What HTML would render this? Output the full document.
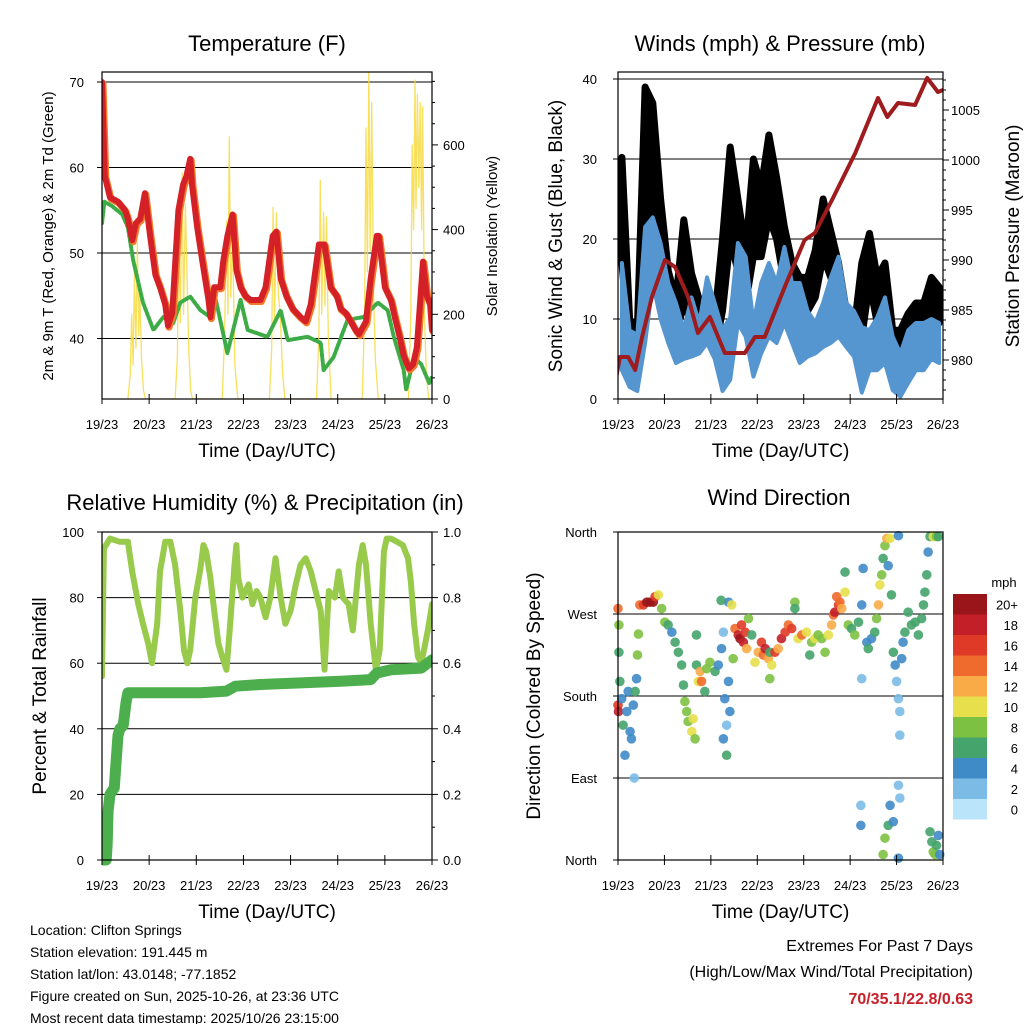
<!DOCTYPE html>
<html><head><meta charset="utf-8"><style>
html,body{margin:0;padding:0;background:#fff;}
svg{display:block;font-family:"Liberation Sans",sans-serif;}
</style></head><body>
<svg id="s" width="1024" height="1024" viewBox="0 0 1024 1024"></svg>
<script>
// ---------- Temperature panel data ----------
const tDays=[0,.06,.17,.34,.49,.55,.64,.72,.81,.91,1.02,1.13,1.23,1.34,1.40,1.49,1.62,1.72,1.79,1.87,1.91,2.02,2.13,2.26,2.30,2.38,2.51,2.57,2.66,2.77,2.85,2.94,3.04,3.15,3.26,3.36,3.47,3.62,3.70,3.79,3.91,4.04,4.21,4.32,4.43,4.60,4.72,4.85,4.98,5.06,5.17,5.28,5.38,5.45,5.60,5.70,5.83,5.87,6.00,6.13,6.21,6.30,6.40,6.51,6.60,6.68,6.81,6.89,6.96,7.0];
const tempRed=[70,59,56.5,56,55,54,51.5,53.5,54,57,52,47.5,46,44,41.5,43,55,58,59,61,58,53,49,44.5,42.5,46,46,49,52,54.5,48,46,45,44.5,44.5,44.5,46,52,52.5,47,45,43.5,42.5,42,44,51,51,46,45,43.5,43,42,41,40.5,42,47,52,52,46,44.5,42.5,40.5,38,36.5,37,39,49,45,44,41];
const tdDays=[0,.05,.21,.43,.55,.66,.87,1.09,1.30,1.51,1.66,1.87,2.09,2.30,2.40,2.66,2.94,3.09,3.51,3.79,3.94,4.36,4.64,4.70,4.91,5.21,5.55,5.85,6.06,6.19,6.40,6.45,6.62,6.77,6.94,7];
const dewGreen=[53.5,56,55.5,54.5,53,49.2,44.2,41,42.5,41.8,44.2,44.9,43.3,42.5,44.9,38.3,44.5,41,40.2,43.3,39.8,40.2,39.5,36.3,37.8,42.2,42.5,44.2,43.3,40.2,36.3,34,37.8,37,34.8,35.5];
const solarDays=[.55,.6,.63,.66,.69,.72,.75,.78,.8,.84,.88,.92, 1.55,1.6,1.63,1.66,1.7,1.73,1.77,1.8,1.84,1.88,1.92, 2.55,2.6,2.64,2.67,2.7,2.73,2.77,2.82,2.88, 3.55,3.6,3.63,3.66,3.7,3.74,3.78,3.83,3.88, 4.55,4.6,4.63,4.66,4.7,4.73,4.76,4.8,4.86, 5.52,5.57,5.6,5.63,5.66,5.69,5.72,5.76,5.8,5.86, 6.5,6.55,6.58,6.61,6.64,6.66,6.69,6.72,6.75,6.78,6.8,6.84,6.88,6.93];
const solarVals=[0,60,200,80,300,120,368,150,260,90,20,0, 0,100,380,180,534,200,460,300,120,20,0, 0,150,420,200,619,240,380,80,0, 0,120,453,180,440,250,200,60,0, 0,150,517,200,440,220,430,150,0, 0,200,640,300,777,350,700,250,90,0, 0,200,600,400,753,450,720,500,700,400,690,200,60,0];
// ---------- Wind panel data (4-hour bins) ----------
const windTop=[17,8.6,8,21.5,22.7,19.5, 14.5,12,8.6,12.7,9.5,15.2, 12,8.6,10.2,19.5,17.8,9.5, 14.5,17,14.5,19,14.5,14.5, 11,9.5,12,15.2,17.8,12, 11,9,8.6,10.2,12.7,7.8, 5.7,8.6,9.5,9.5,10,9.5];
const windLow=[3.6,1.5,1,7,14.5,10, 7,4.5,5,5.3,5.7,7, 5,1,2.4,9.5,7.8,2.8, 5.7,7.8,7,9.5,7,4.5, 5.3,5.7,6.5,7,7.8,6.5, 5.3,.8,3.6,3.6,4.5,1.1, .3,2,3.6,3.6,5,4.5];
const gustTop=[30.2,10,8.6,39,37,25, 16,12.4,22.4,15.7,12.4,10.2, 10,20,31.5,25,18.6,30, 26.5,33,27.7,21.5,17,15.2, 15.2,18.6,25,21,17,11, 8.6,17,20.7,15.2,17,8.6, 8.6,10.7,12,12,15.2,14];
const gustLow=[17,6.5,5.3,20,21.5,15.2, 7.8,7.8,12,9.5,7.8,7.8, 6,11,20,16,12,17.8, 17.8,22.7,20,14.5,11,9.5, 11,12.7,17.8,15.2,12,8.6, 7,7.8,14.5,9.5,12,5.3, 5.3,7.8,7.8,8.6,11,9.5];
const presDays=[-.06,.04,.22,.37,.52,.73,1.01,1.23,1.51,1.72,1.98,2.30,2.73,2.95,3.16,3.59,4.02,4.24,4.61,5.11,5.60,5.80,6.03,6.40,6.66,6.89,7.0];
const presVals=[977.7,980.3,980.3,979,982.3,986.3,990,989.3,986.3,982.7,984.3,980.7,980.7,982.3,982.3,987.3,992,992.7,996,1000.7,1006.2,1004.3,1005.7,1005.5,1008.2,1006.8,1007];
// ---------- RH / precip data ----------
const rhDays=[0,.04,.17,.38,.55,.64,.77,.87,.98,1.06,1.17,1.23,1.34,1.45,1.55,1.66,1.74,1.81,1.87,1.98,2.09,2.15,2.21,2.30,2.38,2.47,2.55,2.64,2.72,2.81,2.85,2.89,2.98,3.11,3.19,3.28,3.36,3.47,3.57,3.68,3.79,3.89,4.00,4.11,4.21,4.32,4.43,4.53,4.64,4.72,4.81,4.94,5.02,5.11,5.23,5.32,5.45,5.53,5.60,5.70,5.81,5.89,5.98,6.04,6.13,6.26,6.38,6.49,6.55,6.62,6.70,6.77,6.83,6.91,6.98,7.0];
const rhVals=[56,95,98,97,97,88,78,72,66,60,72,88,97,97,90,76,64,60,64,80,89,96,94,86,76,66,62,58,72,90,96,86,80,84,78,82,80,74,80,92,80,72,76,84,90,92,88,82,76,58,82,80,88,80,78,70,90,96,90,72,58,64,94,98,98,97,96,92,85,72,62,60,64,70,76,78];
const prDays=[0,.09,.11,.13,.17,.26,.30,.34,.38,.45,.51,.55,.70,2.09,2.64,2.83,3.36,4.21,5.06,5.70,5.83,6.13,6.77,7.0];
const prVals=[0,0,.05,.15,.2,.22,.3,.38,.40,.41,.48,.51,.51,.51,.515,.53,.535,.54,.545,.55,.57,.58,.585,.61];
// ---------- Wind direction data ----------
const dirDay=[0,0,.01,.02,.02,.04,.08,.11,.15,.19,.22,.26,.29,.33,.35,.37,.40,.42,.44,.47,.55,.62,.69,.76,.80,.87,.94,1.01,1.08,1.16,1.23,1.30,1.37,1.41,1.44,1.48,1.51,1.59,1.62,1.66,1.69,1.69,1.73,1.77,1.80,1.87,1.91,1.98,2.09,2.16,2.23,2.27,2.30,2.27,2.34,2.34,2.38,2.41,2.38,2.22,2.45,2.48,2.52,2.59,2.63,2.66,2.70,2.74,2.77,2.81,2.88,2.95,3.02,3.09,3.13,3.17,3.24,3.27,3.31,3.27,3.38,3.45,3.52,3.60,3.67,3.74,3.81,3.81,3.88,3.96,4.06,4.13,4.17,4.24,4.31,4.39,4.46,4.53,4.60,4.64,4.67,4.71,4.75,4.78,4.82,4.89,4.89,4.96,5.03,5.10,5.18,5.25,5.28,5.25,5.36,5.39,5.46,5.53,5.57,5.61,5.64,5.68,5.71,5.75,5.79,5.86,5.82,5.89,5.93,5.97,6.00,6.04,6.07,6.07,6.04,6.07,5.86,5.82,5.75,5.71,5.93,6.04,6.04,5.23,5.23,6.11,6.14,6.18,6.25,6.32,6.40,6.47,6.54,6.58,6.61,6.65,6.68,6.72,6.79,6.86,6.90,6.76,6.79,6.83,6.86,6.72,6.90,6.93];
const dirDeg=[276,170,163,258,228,196,177,148,115,163,185,141,133,170,90,185,199,225,248,280,280,283,283,283,289,291,276,261,258,250,239,228,214,192,174,163,152,141,155,133,214,247,196,207,196,185,210,217,207,214,232,250,177,133,115,148,283,163,196,285,280,221,254,247,243,258,239,250,232,265,247,217,228,239,225,232,221,199,214,228,228,232,243,250,258,254,283,276,243,247,250,225,239,243,247,243,228,247,258,269,272,289,280,283,276,294,316,258,254,247,261,280,320,199,239,232,243,250,265,280,302,313,331,345,353,353,323,291,228,214,196,177,163,137,82,68,60,38,24,6,42,2,356,60,38,221,239,250,272,258,261,247,265,280,294,313,338,355,355,355,355,20,9,6,16,31,27,6];
const dirSpd=[14,16,18,8,6,6,4,6,4,4,4,4,4,5,2,6,4,8,8,14,16,20,22,20,16,10,8,8,6,4,6,6,6,6,8,8,8,10,10,8,6,6,10,12,14,6,8,8,6,4,4,2,4,4,6,2,4,4,4,6,10,8,14,18,20,16,18,16,12,8,6,10,12,16,14,18,12,8,10,6,16,12,18,16,14,16,8,6,10,14,10,6,8,10,8,8,8,10,12,14,18,14,16,14,12,10,6,8,6,8,6,4,4,2,4,6,4,6,8,12,10,8,6,8,12,10,4,6,6,4,2,2,2,2,2,2,4,6,8,8,4,4,4,2,4,4,4,6,6,6,6,6,6,6,6,6,4,6,10,8,6,6,8,8,6,6,4,4];
const spdLabels=["20+","18","16","14","12","10","8","6","4","2","0"];
const spdColors=["#b9e4f9","#7cbbe6","#3f8bc8","#45a46b","#7dc143","#e7df4b","#f8ab47","#ef6b2d","#df3a27","#c21f29","#9a1519"];
const dayLabels=["19/23","20/23","21/23","22/23","23/23","24/23","25/23","26/23"];

const NS="http://www.w3.org/2000/svg";
const svg=document.getElementById('s');
function mk(tag,attrs,parent){const e=document.createElementNS(NS,tag);for(const k in attrs)e.setAttribute(k,attrs[k]);(parent||svg).appendChild(e);return e;}
function txt(x,y,s,size,anchor,parent,extra){const e=mk('text',Object.assign({x:x,y:y,'font-size':size,'text-anchor':anchor||'middle',fill:'#000'},extra||{}),parent);e.textContent=s;return e;}

function xAxis(g,x0,x1,y){
  const w=(x1-x0)/7;
  dayLabels.forEach((l,i)=>{
    const x=x0+i*w;
    mk('line',{x1:x,x2:x,y1:y,y2:y+5,stroke:'#000','stroke-width':1},g);
    mk('line',{x1:x,x2:x,y1:y,y2:y-5,stroke:'#000','stroke-width':1},g);
    const t=txt(x,y+30,l,13,'middle',g);
    
    
  });
  const t=txt((x0+x1)/2,y+58,'Time (Day/UTC)',19,'middle',g);
  
  
}
function frame(g,x0,x1,y0,y1){
  const r=mk('rect',{x:x0,y:y0,width:x1-x0,height:y1-y0,fill:'none',stroke:'#000','stroke-width':1.2},g);
  
  
}
function grid(g,x0,x1,y){mk('line',{x1:x0,x2:x1,y1:y,y2:y,stroke:'#000','stroke-width':1},g);}
function poly(g,pts,attrs){return mk('polyline',Object.assign({points:pts.map(p=>p[0].toFixed(1)+','+p[1].toFixed(1)).join(' '),fill:'none','stroke-linejoin':'round','stroke-linecap':'round'},attrs),g);}
function band(g,xs,tops,lows,attrs){
  const pts=[];
  xs.forEach((x,i)=>pts.push(x.toFixed(1)+','+tops[i].toFixed(1)));
  for(let i=xs.length-1;i>=0;i--)pts.push(xs[i].toFixed(1)+','+lows[i].toFixed(1));
  return mk('polygon',Object.assign({points:pts.join(' '),'stroke-linejoin':'round'},attrs),g);
}

// ===== Panel 1: Temperature =====
(function(){
  const g=mk('g',{});
  
  
  const x0=102,x1=432,y0=72,y1=399;
  const X=d=>x0+d*(x1-x0)/7, Y=v=>82+(70-v)*8.55, YS=v=>399-v*0.4235;
  const clip=mk('clipPath',{id:'c1'},g);mk('rect',{x:x0,y:y0,width:x1-x0,height:y1-y0},clip);
  [40,50,60,70].forEach(v=>grid(g,x0,x1,Y(v)));
  const pg=mk('g',{'clip-path':'url(#c1)'},g);
  const sol=poly(pg,solarDays.map((d,i)=>[X(d),YS(solarVals[i])]),{stroke:'#f7d940','stroke-width':1.3,'stroke-opacity':0.85});
  
  
  const dew=poly(pg,tdDays.map((d,i)=>[X(d),Y(dewGreen[i])]),{stroke:'#3dac47','stroke-width':4,'stroke-dasharray':'3 2'});
  
  
  const o=poly(pg,tDays.map((d,i)=>[X(d)+1,Y(tempRed[i])+1.5]),{stroke:'#f27a29','stroke-width':7});
  
  
  const r=poly(pg,tDays.map((d,i)=>[X(d),Y(tempRed[i])]),{stroke:'#d42027','stroke-width':6});
  
  
  frame(g,x0,x1,y0,y1);
  [40,50,60,70].forEach(v=>{mk('line',{x1:x0-5,x2:x0,y1:Y(v),y2:Y(v),stroke:'#000'},g);const t=txt(x0-18,Y(v)+5,String(v),13,'end',g);});
  for(let v=0;v<=750;v+=50){const y=YS(v);mk('line',{x1:x1,x2:x1+(v%200==0?6:3),y1:y,y2:y,stroke:'#000'},g);}
  [0,200,400,600].forEach(v=>{const t=txt(x1+11,YS(v)+5,String(v),13,'start',g);});
  xAxis(g,x0,x1,y1);
  let t=txt(267,51,'Temperature (F)',22,'middle',g);
  t=txt(0,0,'2m & 9m T (Red, Orange) & 2m Td (Green)',15,'middle',g,{transform:'translate(53,236) rotate(-90)'});
  t=txt(0,0,'Solar Insolation (Yellow)',15,'middle',g,{transform:'translate(497,236) rotate(-90)'});
})();

// ===== Panel 2: Winds & Pressure =====
(function(){
  const g=mk('g',{});
  
  
  const x0=618,x1=943,y0=72,y1=399;
  const X=d=>x0+d*(x1-x0)/7, Y=v=>399-v*8, YP=p=>360-(p-980)*10;
  const clip=mk('clipPath',{id:'c2'},g);mk('rect',{x:x0,y:y0,width:x1-x0,height:y1-y0},clip);
  [10,20,30,40].forEach(v=>grid(g,x0,x1,Y(v)));
  const pg=mk('g',{'clip-path':'url(#c2)'},g);
  const xs=gustTop.map((v,i)=>X((i+0.5)/6));
  const gb=band(pg,xs,gustTop.map(Y),gustLow.map(Y),{fill:'#000',stroke:'#000','stroke-width':7});
  
  
  const wb=band(pg,xs,windTop.map(Y),windLow.map(Y),{fill:'#5596d0',stroke:'#5596d0','stroke-width':4});
  
  
  const p=poly(pg,presDays.map((d,i)=>[X(d),YP(presVals[i])]),{stroke:'#9e1b1e','stroke-width':4});
  
  
  frame(g,x0,x1,y0,y1);
  [0,10,20,30,40].forEach(v=>{mk('line',{x1:x0-5,x2:x0,y1:Y(v),y2:Y(v),stroke:'#000'},g);const t=txt(x0-21,Y(v)+5,String(v),13,'end',g);});
  for(let p2=977;p2<=1008;p2++){const y=YP(p2);mk('line',{x1:x1,x2:x1+(p2%5==0?6:3),y1:y,y2:y,stroke:'#000'},g);}
  [980,985,990,995,1000,1005].forEach(v=>{const t=txt(x1+8,YP(v)+5,String(v),13,'start',g);});
  xAxis(g,x0,x1,y1);
  let t=txt(780,51,'Winds (mph) & Pressure (mb)',22,'middle',g);
  t=txt(0,0,'Sonic Wind & Gust (Blue, Black)',19,'middle',g,{transform:'translate(562,236) rotate(-90)'});
  t=txt(0,0,'Station Pressure (Maroon)',19,'middle',g,{transform:'translate(1019,236) rotate(-90)'});
})();

// ===== Panel 3: RH & Precip =====
(function(){
  const g=mk('g',{});
  
  
  const x0=102,x1=432,y0=532,y1=860;
  const X=d=>x0+d*(x1-x0)/7, Y=v=>860-v*3.28, YR=v=>860-v*328;
  [20,40,60,80].forEach(v=>grid(g,x0,x1,Y(v)));
  const clip=mk('clipPath',{id:'c3'},g);mk('rect',{x:x0,y:y0,width:x1-x0,height:y1-y0+6},clip);
  const pg=mk('g',{'clip-path':'url(#c3)'},g);
  const rh=poly(pg,rhDays.map((d,i)=>[X(d),Y(rhVals[i])]),{stroke:'#98ca4b','stroke-width':6});
  
  
  const pr=poly(pg,prDays.map((d,i)=>[X(d),YR(prVals[i])]),{stroke:'#4cae4c','stroke-width':11});
  
  
  frame(g,x0,x1,y0,y1);
  [0,20,40,60,80,100].forEach(v=>{mk('line',{x1:x0-5,x2:x0,y1:Y(v),y2:Y(v),stroke:'#000'},g);const t=txt(x0-18,Y(v)+5,String(v),13,'end',g);});
  for(let v=0;v<=10;v++){const y=YR(v/10);mk('line',{x1:x1,x2:x1+(v%2==0?6:3),y1:y,y2:y,stroke:'#000'},g);}
  [0,.2,.4,.6,.8,1].forEach(v=>{const t=txt(x1+11,YR(v)+5,v.toFixed(1),13,'start',g);});
  xAxis(g,x0,x1,y1);
  let t=txt(265,510,'Relative Humidity (%) & Precipitation (in)',22,'middle',g);
  t=txt(0,0,'Percent & Total Rainfall',19,'middle',g,{transform:'translate(46,696) rotate(-90)'});
})();

// ===== Panel 4: Wind Direction =====
(function(){
  const g=mk('g',{});
  
  
  const x0=618,x1=943,y0=532,y1=860;
  const X=d=>x0+d*(x1-x0)/7, Y=v=>860-v*(328/360);
  [90,180,270].forEach(v=>grid(g,x0,x1,Y(v)));
  dirDay.forEach((d,i)=>{
    const ci=Math.min(10,Math.floor(dirSpd[i]/2));
    const c=mk('circle',{cx:X(d),cy:Y(dirDeg[i]),r:4.8,fill:spdColors[ci],'fill-opacity':0.9},g);
    
    
  });
  frame(g,x0,x1,y0,y1);
  ['North','East','South','West','North'].forEach((l,i)=>{const y=Y(i*90);mk('line',{x1:x0-5,x2:x0,y1:y,y2:y,stroke:'#000'},g);const t=txt(x0-21,y+5,l,13,'end',g);});
  xAxis(g,x0,x1,y1);
  let t=txt(779,505,'Wind Direction',22,'middle',g);
  t=txt(0,0,'Direction (Colored By Speed)',19,'middle',g,{transform:'translate(540,696) rotate(-90)'});
  const cb=mk('g',{},g);
  
  
  const bh=20.5;
  spdLabels.forEach((l,i)=>{
    const y=594+i*bh;
    const r=mk('rect',{x:953,y:y,width:34,height:bh,fill:spdColors[10-i]},cb);
    
    
    const tt=txt(1018,y+bh/2+5,l,13,'end',cb);
    
    
  });
  t=txt(1004,587,'mph',13,'middle',cb);
})();

// ===== Footer text =====
(function(){
  const g=mk('g',{});
  
  
  ['Location: Clifton Springs','Station elevation: 191.445 m','Station lat/lon: 43.0148; -77.1852','Figure created on Sun, 2025-10-26, at 23:36 UTC','Most recent data timestamp: 2025/10/26 23:15:00'].forEach((s,i)=>{
    const t=txt(30,935+i*22,s,14,'start',g);
    
    
  });
  const h=mk('g',{});
  
  
  let t=txt(973,951,'Extremes For Past 7 Days',16,'end',h);
  t=txt(973,977,'(High/Low/Max Wind/Total Precipitation)',16,'end',h);
  t=txt(973,1004,'70/35.1/22.8/0.63',16,'end',h,{fill:'#c8202a','font-weight':'bold'});
})();
</script>
</body></html>
